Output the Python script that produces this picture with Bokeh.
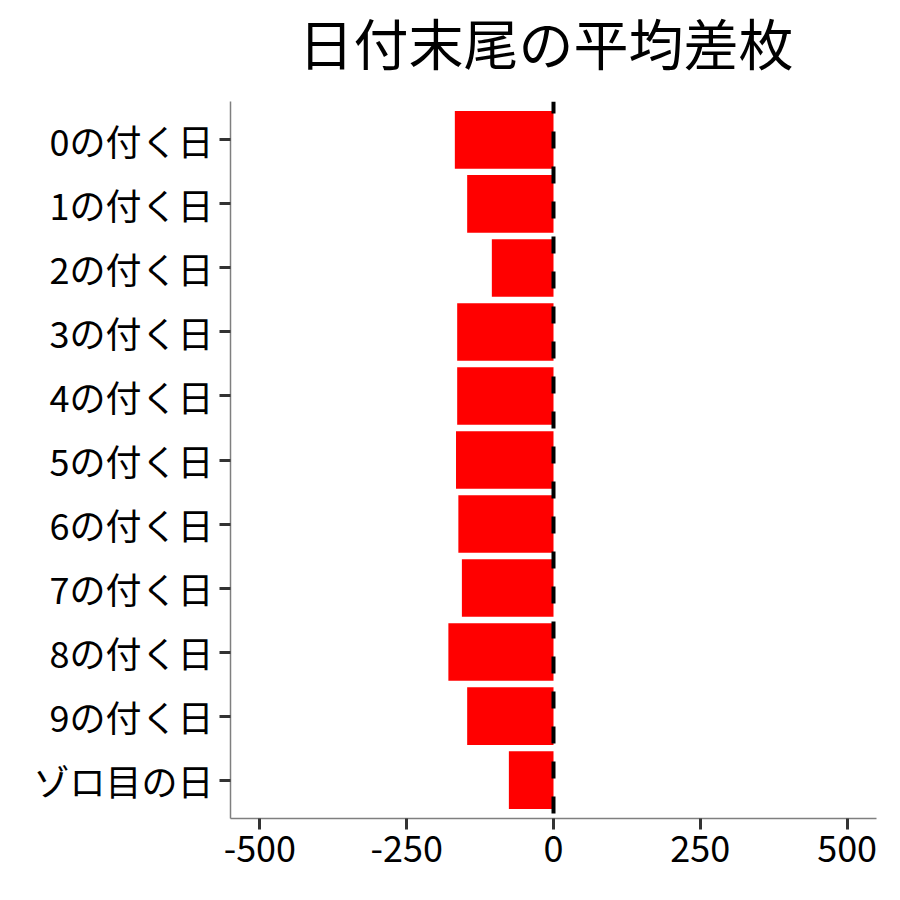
from bokeh.plotting import figure
from bokeh.models import FactorRange, Range1d, FixedTicker, Span, ColumnDataSource, Title
from bokeh.embed import file_html
from bokeh.resources import INLINE

labels = ["0の付く日", "1の付く日", "2の付く日", "3の付く日", "4の付く日",
          "5の付く日", "6の付く日", "7の付く日", "8の付く日", "9の付く日", "ゾロ目の日"]
values = [-168, -147, -105, -164, -164, -166, -162, -156, -179, -147, -76]
x_ticks = [-500, -250, 0, 250, 500]
x_tick_labels = ["-500", "-250", "0", "250", "500"]
title_text = "日付末尾の平均差枚"

FONT = "Noto Sans CJK JP"

src = ColumnDataSource(dict(label=labels, value=values, zero=[0] * len(values)))

p = figure(width=884, height=884, output_backend="svg", toolbar_location=None, title=None,
           y_range=FactorRange(factors=list(reversed(labels)), range_padding=0.1,
                               range_padding_units="absolute"),
           x_range=Range1d(-550, 550),
           min_border_left=230, min_border_right=8, min_border_top=101, min_border_bottom=66)

p.hbar(y="label", left="value", right="zero", height=0.9, source=src,
       fill_color="#FF0000", line_color=None)

p.add_layout(Span(location=0, dimension="height", line_color="black", line_width=4,
                  line_dash="17 18", line_dash_offset=5))

# small spacer between the frame and the title
spacer = Title(text=" ", text_font="Lato", text_font_size="2px", standoff=21)
main_title = Title(text=title_text, align="left", offset=68,
                   text_font="Lato, Noto Sans CJK JP", text_font_size="55px",
                   text_font_style="normal", text_color="black", standoff=0)
p.add_layout(spacer, "above")
p.add_layout(main_title, "above")

p.xaxis.ticker = FixedTicker(ticks=x_ticks)
p.xaxis.major_label_overrides = {t: s for t, s in zip(x_ticks, x_tick_labels)}
p.xgrid.visible = False
p.ygrid.visible = False
p.outline_line_color = None
p.background_fill_color = "white"
p.border_fill_color = "white"

for ax in (p.xaxis[0], p.yaxis[0]):
    ax.axis_line_color = "#7f7f7f"
    ax.axis_line_width = 1.5
    ax.major_tick_line_color = "#333333"
    ax.major_tick_line_width = 3
    ax.major_tick_out = 11
    ax.major_tick_in = 0
    ax.minor_tick_line_color = None
    ax.major_label_text_font = FONT
    ax.major_label_text_font_size = "36px"
    ax.major_label_text_color = "black"
    ax.major_label_standoff = 6

open("out.html", "w").write(file_html(p, INLINE))
